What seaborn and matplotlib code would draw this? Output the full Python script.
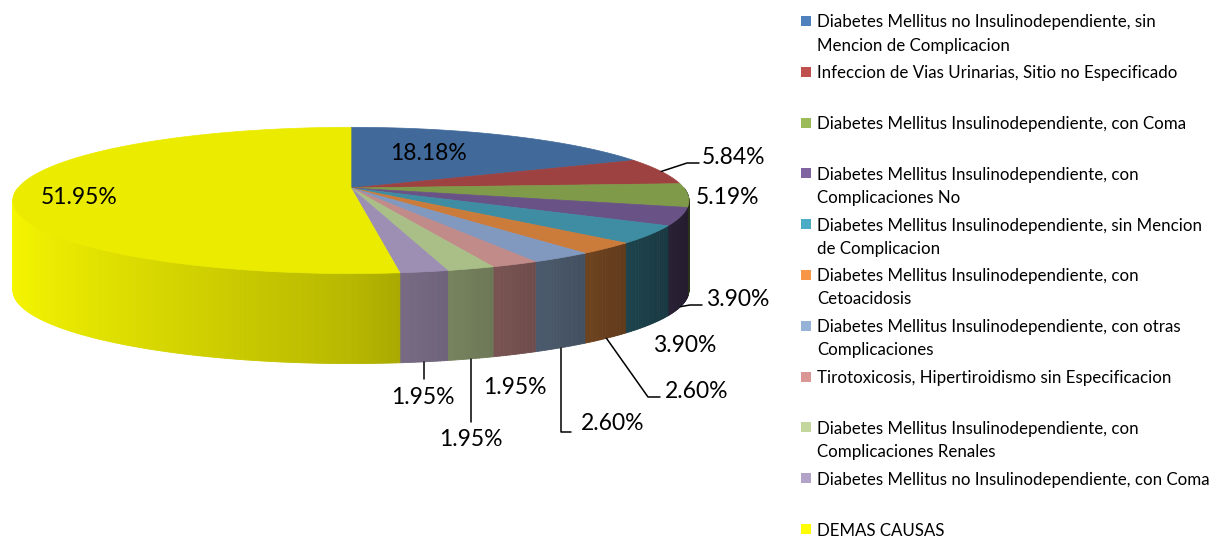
import numpy as np
import matplotlib
matplotlib.use("Agg")
import matplotlib.pyplot as plt
from matplotlib.collections import PolyCollection
from matplotlib.patches import Polygon, Rectangle
import seaborn as sns

# Data
causes = [
    "Diabetes Mellitus no Insulinodependiente, sin\nMencion de Complicacion",
    "Infeccion de Vias Urinarias, Sitio no Especificado",
    "Diabetes Mellitus Insulinodependiente, con Coma",
    "Diabetes Mellitus Insulinodependiente, con\nComplicaciones No",
    "Diabetes Mellitus Insulinodependiente, sin Mencion\nde Complicacion",
    "Diabetes Mellitus Insulinodependiente, con\nCetoacidosis",
    "Diabetes Mellitus Insulinodependiente, con otras\nComplicaciones",
    "Tirotoxicosis, Hipertiroidismo sin Especificacion",
    "Diabetes Mellitus Insulinodependiente, con\nComplicaciones Renales",
    "Diabetes Mellitus no Insulinodependiente, con Coma",
    "DEMAS CAUSAS",
]
percentages = [18.18, 5.84, 5.19, 3.90, 3.90, 2.60, 2.60, 1.95, 1.95, 1.95, 51.95]

# Style
base_colors = sns.color_palette([
    "#4F81BD", "#C0504D", "#9BBB59", "#8064A2", "#4BACC6", "#F79646",
    "#95B3D7", "#D99694", "#C3D69B", "#B3A2C7", "#FFFF00",
])
top_colors = sns.color_palette([
    "#416A9B", "#9D4240", "#7F9A49", "#695285", "#3E8DA3", "#CB7B3A",
    "#8198BF", "#C18B89", "#AABF88", "#9C8FB3", "#EBEB00",
])

sns.set_theme(style="white")
plt.rcParams["font.family"] = ["Lato", "DejaVu Sans"]

# 3D pie geometry (pixel space)
CX, CY = 351, 188
RX, RY = 333, 71
K = 0.17
DEPTH = 90

# label placement: text centre and leader waypoints (None = no leader)
label_pos = [(428, 153), (734, 158), (728, 197), (738, 299), (685, 345),
             (697, 391), (613, 424), (515, 388), (471, 440), (423, 397), (79, 197)]
leaders = [None, [(687, 163), (699, 163)], None, [(690, 305), (702, 305)], None,
           [(648, 397), (660, 397)], "lb", None, "v", "v", None]


def rim(phi):
    p = np.radians(phi)
    s = 1.0 / (1.0 + K * np.sin(p))
    return CX + RX * np.cos(p) * s, CY - RY * np.sin(p) * s


def wall_shade(phi):
    c = np.cos(np.radians(phi))
    f = np.where(c < 0, 0.72 - 0.25 * c, 0.72 - 0.45 * c)
    return np.clip(f, 0.28, 1.0)


fig = plt.figure(figsize=(12.18, 5.38), dpi=100)
ax = fig.add_axes([0, 0, 1, 1])
ax.set_xlim(0, 1218)
ax.set_ylim(538, 0)
ax.axis("off")

fracs = np.array(percentages) / np.sum(percentages)
edges = 90 - 360 * np.concatenate([[0], np.cumsum(fracs)])

# side walls
polys, fcs = [], []
for i in range(len(percentages)):
    a0, a1 = edges[i + 1], edges[i]
    lo, hi = max(a0, -180), min(a1, 0)
    if hi <= lo:
        continue
    ph = np.linspace(lo, hi, max(int((hi - lo) * 2), 2))
    xs, ys = rim(ph)
    shades = wall_shade((ph[:-1] + ph[1:]) / 2)
    for j in range(len(ph) - 1):
        polys.append([(xs[j], ys[j]), (xs[j + 1], ys[j + 1]),
                      (xs[j + 1], ys[j + 1] + DEPTH), (xs[j], ys[j] + DEPTH)])
        fcs.append(tuple(np.array(base_colors[i]) * shades[j]))
ax.add_collection(PolyCollection(polys, facecolors=fcs, edgecolors=fcs,
                                 linewidths=0.6, zorder=1))

# top faces
for i in range(len(percentages)):
    ph = np.linspace(edges[i], edges[i + 1], 200)
    xs, ys = rim(ph)
    pts = np.vstack([[CX, CY], np.column_stack([xs, ys])])
    ax.add_patch(Polygon(pts, closed=True, facecolor=top_colors[i],
                         edgecolor=top_colors[i], linewidth=0.5, zorder=2))

# percentage labels
for i, v in enumerate(percentages):
    mid = (edges[i] + edges[i + 1]) / 2
    tx, ty = label_pos[i]
    ax.text(tx, ty, f"{v:.2f}%", fontsize=16.5, color="black",
            ha="center", va="center", zorder=5)
    ld = leaders[i]
    if ld is None:
        continue
    ax_, ay_ = rim(mid)
    if np.sin(np.radians(mid)) < 0:
        ay_ = ay_ + DEPTH
    if ld == "v":
        path = [(ax_, ay_), (ax_, ty - 18)]
    elif ld == "lb":
        path = [(ax_, ay_), (ax_, ty + 8), (ax_ + 10, ty + 8)]
    else:
        path = [(ax_, ay_)] + ld
    px, py = zip(*path)
    ax.plot(px, py, color="black", linewidth=1.1, zorder=4)

# legend
for i, name in enumerate(causes):
    y0 = 21 + 50.8 * i
    ax.add_patch(Rectangle((801, y0 - 5), 10, 10, facecolor=base_colors[i],
                           edgecolor="none", zorder=5))
    for j, line in enumerate(name.split("\n")):
        ax.text(817, y0 + 23 * j, line, fontsize=12.2, color="black",
                ha="left", va="center_baseline", zorder=5)

fig.savefig("out.png", dpi=100)
